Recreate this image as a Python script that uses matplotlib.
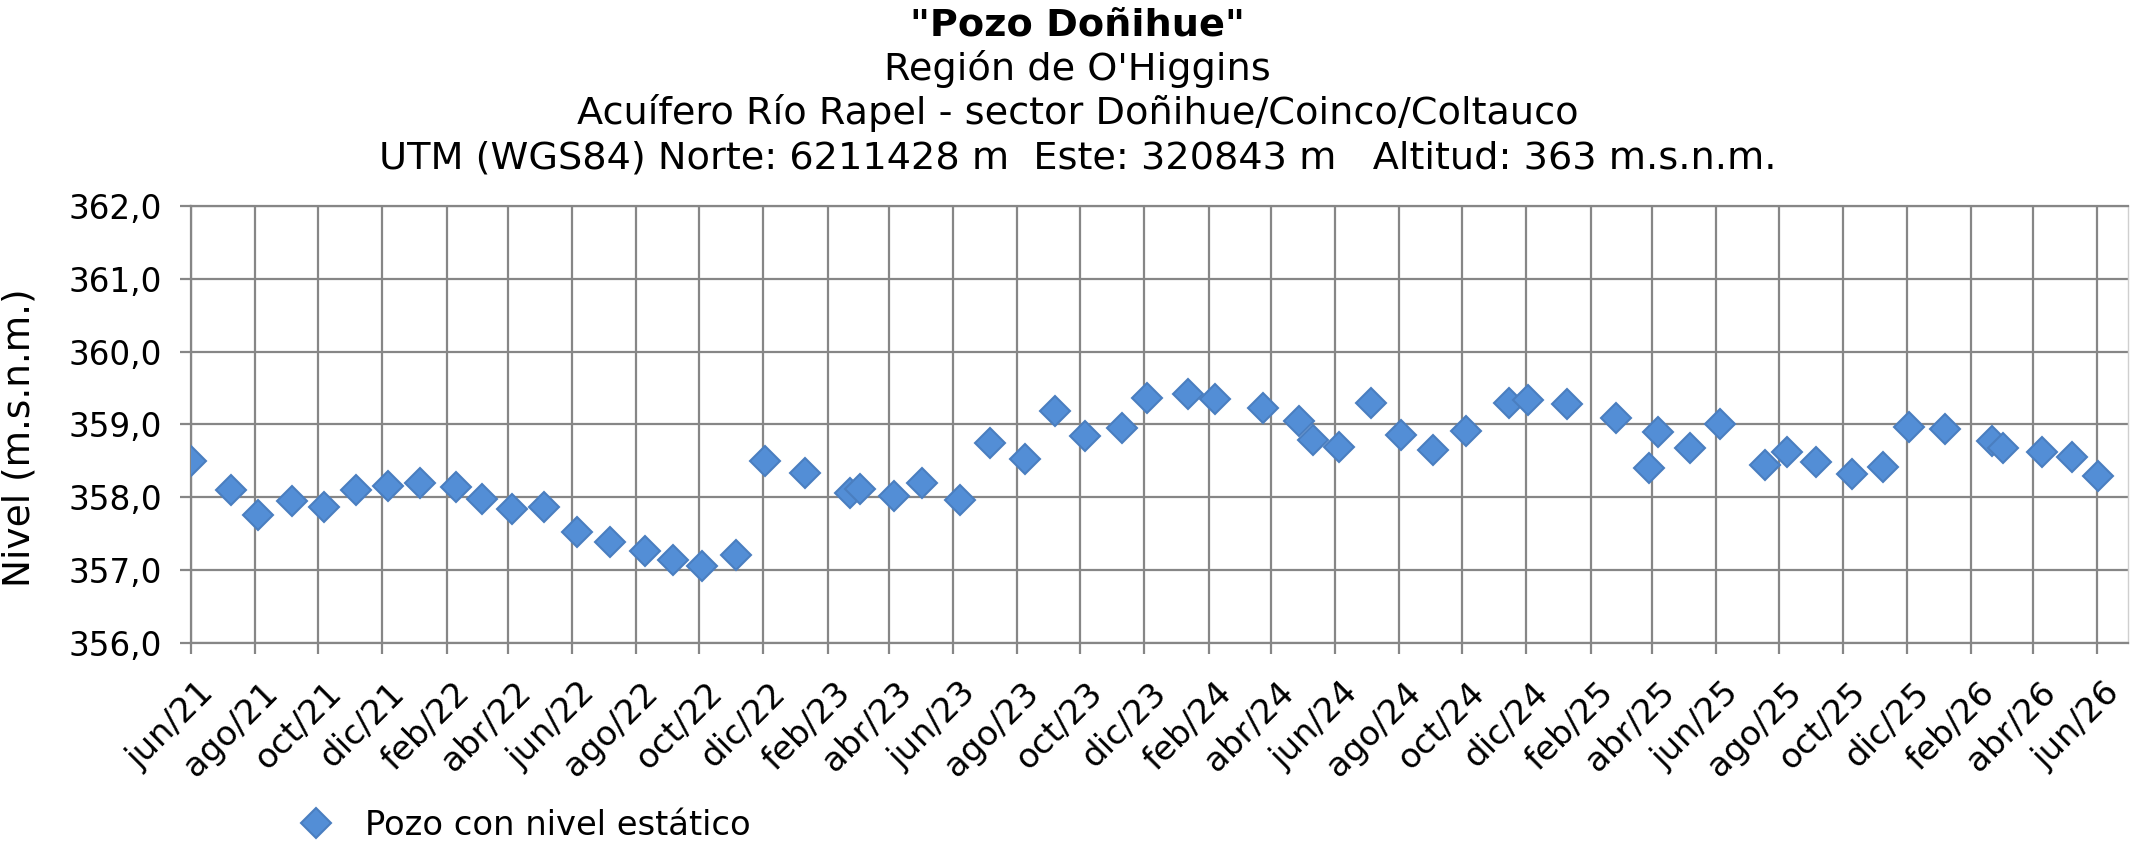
import datetime as dt
import matplotlib
matplotlib.use("Agg")
import matplotlib.pyplot as plt
import matplotlib.dates as mdates
from matplotlib.ticker import FuncFormatter, MultipleLocator
from matplotlib.transforms import ScaledTranslation

# fechas de medición y nivel estático (m.s.n.m.)
fechas = [
    "2021-06-01", "2021-07-09", "2021-08-04", "2021-09-06", "2021-10-06",
    "2021-11-06", "2021-12-07", "2022-01-06", "2022-02-10", "2022-03-07",
    "2022-04-05", "2022-05-05", "2022-06-06", "2022-07-07", "2022-08-10",
    "2022-09-06", "2022-10-04", "2022-11-05", "2022-12-03", "2023-01-10",
    "2023-02-22", "2023-03-04", "2023-04-06", "2023-05-02", "2023-06-08",
    "2023-07-07", "2023-08-09", "2023-09-07", "2023-10-06", "2023-11-10",
    "2023-12-04", "2024-01-12", "2024-02-07", "2024-03-24", "2024-04-28",
    "2024-05-11", "2024-06-05", "2024-07-06", "2024-08-03", "2024-09-03",
    "2024-10-05", "2024-11-15", "2024-12-03", "2025-01-09", "2025-02-25",
    "2025-03-29", "2025-04-07", "2025-05-07", "2025-06-05", "2025-07-18",
    "2025-08-08", "2025-09-05", "2025-10-10", "2025-11-08", "2025-12-03",
    "2026-01-07", "2026-02-21", "2026-03-03", "2026-04-10", "2026-05-08",
    "2026-06-02",
]
niveles = [
    358.50, 358.10, 357.76, 357.95, 357.87,
    358.10, 358.16, 358.20, 358.14, 357.97,
    357.84, 357.87, 357.53, 357.39, 357.26,
    357.14, 357.05, 357.21, 358.50, 358.33,
    358.06, 358.11, 358.02, 358.20, 357.96,
    358.74, 358.52, 359.19, 358.84, 358.95,
    359.37, 359.42, 359.35, 359.23, 359.05,
    358.79, 358.69, 359.29, 358.86, 358.65,
    358.91, 359.30, 359.34, 359.28, 359.09,
    358.40, 358.90, 358.68, 359.01, 358.45,
    358.62, 358.49, 358.32, 358.42, 358.96,
    358.94, 358.77, 358.68, 358.62, 358.55,
    358.29,
]
meses = ["ene", "feb", "mar", "abr", "may", "jun",
         "jul", "ago", "sep", "oct", "nov", "dic"]

titulo = ['"Pozo Doñihue"',
          "Región de O'Higgins",
          "Acuífero Río Rapel - sector Doñihue/Coinco/Coltauco",
          "UTM (WGS84) Norte: 6211428 m  Este: 320843 m   Altitud: 363 m.s.n.m."]

x = [dt.datetime.strptime(f, "%Y-%m-%d") for f in fechas]
gris = "#868686"
fs = 23.5

plt.rcParams["font.family"] = ["DejaVu Sans"]
fig = plt.figure(figsize=(21.34, 8.46), dpi=100)
ax = fig.add_axes([0.0895, 0.240, 0.9077, 0.5165])

ax.plot(x, niveles, linestyle="none", marker="D", markersize=15,
        markerfacecolor="#538ED6", markeredgecolor="#4A7EC0",
        markeredgewidth=1.5, label="Pozo con nivel estático", zorder=3)

ax.set_xlim(dt.datetime(2021, 6, 1), dt.datetime(2026, 7, 1))
ax.set_ylim(356, 362)
ax.yaxis.set_major_locator(MultipleLocator(1))
ax.yaxis.set_major_formatter(FuncFormatter(lambda v, p: f"{v:.1f}".replace(".", ",")))
ax.xaxis.set_major_locator(mdates.MonthLocator(bymonth=[2, 4, 6, 8, 10, 12]))
ax.xaxis.set_major_formatter(FuncFormatter(
    lambda v, p: f"{meses[mdates.num2date(v).month - 1]}/{mdates.num2date(v).year % 100:02d}"))

ax.grid(True, color=gris, linewidth=1.6)
ax.set_axisbelow(True)
for s in ["left", "bottom", "top"]:
    ax.spines[s].set_color(gris)
    ax.spines[s].set_linewidth(1.6)
ax.spines["right"].set_color("#CFCFCF")
ax.spines["right"].set_linewidth(1.0)
ax.tick_params(axis="both", color=gris, width=1.6, length=8, labelsize=fs)
ax.tick_params(axis="y", pad=13)
ax.tick_params(axis="x", pad=16, labelsize=24.5)
for lab in ax.get_xticklabels():
    lab.set_rotation(45)
    lab.set_ha("right")
    lab.set_va("top")
    lab.set_rotation_mode("anchor")
    lab.set_transform(lab.get_transform() + ScaledTranslation(0.06, 0, fig.dpi_scale_trans))

fig.text(0.009, 0.483, "Nivel (m.s.n.m.)", rotation=90, fontsize=27,
         ha="center", va="center")

# títulos
bases = [35, 80, 124, 169]
for i, (t, b) in enumerate(zip(titulo, bases)):
    fig.text(0.505, 1 - b / 846, t, fontsize=27.5, ha="center", va="baseline",
             fontweight="bold" if i == 0 else "normal")

fig.legend(loc="center left", bbox_to_anchor=(0.140, 0.0248), frameon=False,
           fontsize=24.3, handlelength=1.0, handletextpad=0.95, borderpad=0,
           borderaxespad=0)

fig.savefig("out.png", dpi=100)
